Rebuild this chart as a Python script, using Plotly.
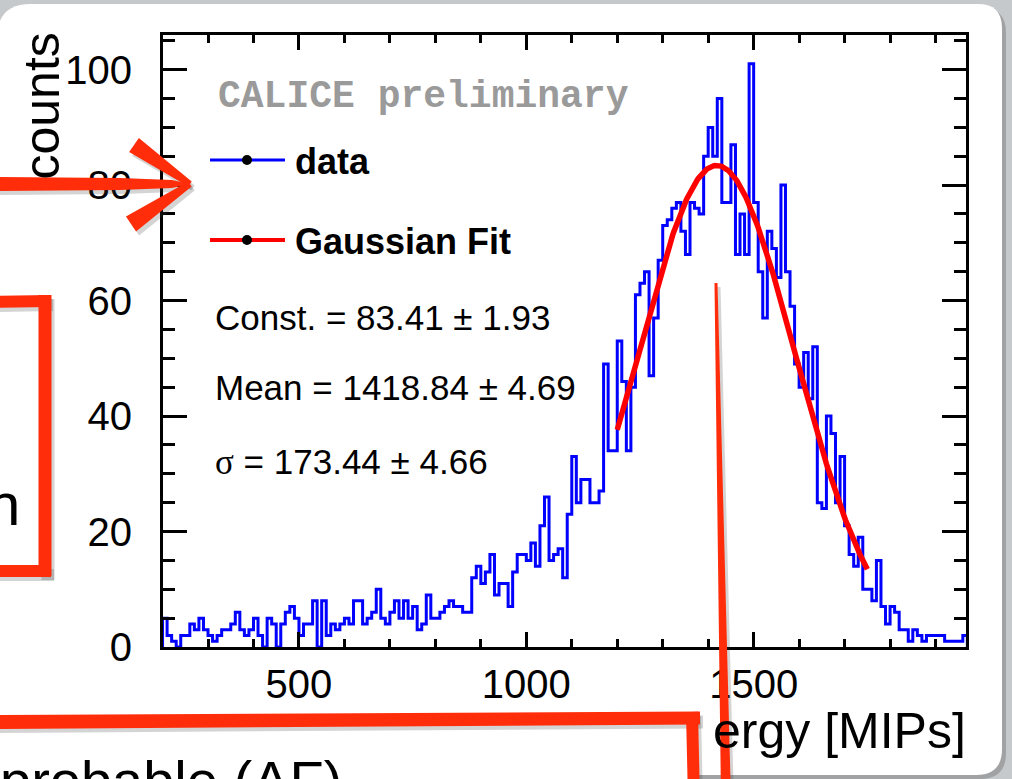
import math
import plotly.graph_objects as go

# ---------------- data ----------------
bin_start = 200          # MIPs, first bin low edge
bin_width = 10           # MIPs
counts = [
    5, 2, 1, 0, 2, 2, 4, 3, 5, 3, 2, 1, 2, 3, 3, 4, 6, 3, 2, 3, 5, 2, 0, 5, 4, 0, 4, 6, 7, 5, 2, 4, 4, 8,
    0, 8, 2, 4, 3, 4, 5, 4, 8, 8, 4, 5, 6, 10, 5, 4, 6, 8, 5, 8, 5, 7, 3, 4, 9, 5, 5, 6, 7, 8, 7, 7, 6, 6,
    12, 14, 11, 13, 16, 9, 11, 11, 7, 13, 16, 16, 15, 18, 14, 21, 26, 15, 16, 17, 12, 23, 33, 25, 29, 29, 25, 25, 27,
    49, 34, 34, 53, 46, 34, 45, 61, 63, 65, 47, 57, 67, 73, 74, 76, 77, 72, 68, 77, 76, 75, 85, 90, 85, 95, 77, 77, 87, 68, 75, 68, 101,
    77, 65, 57, 72, 69, 64, 80, 65, 59, 49, 45, 51, 43, 52, 25, 24, 40, 37, 25, 33, 21, 16, 14, 19, 10, 10, 8, 15, 7, 4, 7, 6, 3, 3, 1, 3, 2, 1, 2, 2, 2, 2, 1, 1, 1, 1, 2,
]
fit_const = 83.41
fit_mean = 1418.84
fit_sigma = 173.44
fit_range = [1200, 1750]
x_range = [201, 1967]
y_range = [0, 106]
legend_labels = ["data", "Gaussian Fit"]
stat_lines = ["Const. = 83.41 ± 1.93", "Mean = 1418.84 ± 4.69",
              '<span style="font-family:Liberation Serif">σ</span> = 173.44 ± 4.66']
x_title = "ergy [MIPs]"
y_title = "counts"
watermark = "CALICE preliminary"
slide_texts = ["n", "probable (AF)"]

# ---------------- geometry helpers (pixel -> paper) ----------------
W, H = 1012, 779
L, R, T, B = 163, 966, 35, 647


def fx(x):
    return (x - L) / (R - L)


def fy(y):
    return (B - y) / (B - T)


def poly(points):
    return "M " + " L ".join(f"{fx(x):.5f},{fy(y):.5f}" for x, y in points) + " Z"


def stroke(x0, y0, x1, y1, w0, w1):
    dx, dy = x1 - x0, y1 - y0
    n = math.hypot(dx, dy)
    px, py = -dy / n, dx / n
    return [(x0 + px * w0 / 2, y0 + py * w0 / 2), (x1 + px * w1 / 2, y1 + py * w1 / 2),
            (x1 - px * w1 / 2, y1 - py * w1 / 2), (x0 - px * w0 / 2, y0 - py * w0 / 2)]


def rounded_rect(x0, y0, x1, y1, r_tl, r_tr, r_br, r_bl):
    def P(x, y):
        return f"{fx(x):.5f},{fy(y):.5f}"
    return (f"M {P(x0, y0 + r_tl)} Q {P(x0, y0)} {P(x0 + r_tl, y0)} "
            f"L {P(x1 - r_tr, y0)} Q {P(x1, y0)} {P(x1, y0 + r_tr)} "
            f"L {P(x1, y1 - r_br)} Q {P(x1, y1)} {P(x1 - r_br, y1)} "
            f"L {P(x0 + r_bl, y1)} Q {P(x0, y1)} {P(x0, y1 - r_bl)} Z")


# ---------------- traces ----------------
edges = [bin_start + bin_width * i for i in range(len(counts) + 1)]
hx = [edges[0]] + edges
hy = [0] + counts + [0]

fit_x = [fit_range[0] + 2 * i for i in range((fit_range[1] - fit_range[0]) // 2 + 1)]
fit_y = [fit_const * math.exp(-0.5 * ((v - fit_mean) / fit_sigma) ** 2) for v in fit_x]

fig = go.Figure()
fig.add_trace(go.Scatter(x=hx, y=hy, mode="lines", line=dict(color="#0000ff", width=3, shape="hv"),
                         showlegend=False, hoverinfo="skip"))
fig.add_trace(go.Scatter(x=fit_x, y=fit_y, mode="lines", line=dict(color="#ff0000", width=5.5),
                         showlegend=False, hoverinfo="skip"))

FONT = "Liberation Sans, Arial, sans-serif"
RED = "#ff2d0a"
SHADOW = "rgba(60,60,60,0.22)"

shapes = []
# slide panel (rounded white card) with soft shadow
shapes.append(dict(type="path", xref="paper", yref="paper", layer="below",
                   path=rounded_rect(1, 7, 1006, 779, 34, 26, 26, 26),
                   fillcolor="rgba(90,90,90,0.35)", line=dict(width=0)))
shapes.append(dict(type="path", xref="paper", yref="paper", layer="below",
                   path=rounded_rect(-3, 4, 1002, 775, 34, 24, 26, 26),
                   fillcolor="#ffffff", line=dict(width=0)))

# legend samples
for yy, col, lw in [(160, "#0000ff", 3), (240, "#ff0000", 4)]:
    shapes.append(dict(type="line", xref="paper", yref="paper", x0=fx(210), x1=fx(285), y0=fy(yy), y1=fy(yy),
                       line=dict(color=col, width=lw)))
    shapes.append(dict(type="circle", xref="paper", yref="paper", x0=fx(242), x1=fx(252),
                       y0=fy(yy + 5), y1=fy(yy - 5), fillcolor="black", line=dict(width=0)))

# bottom slide box (white interior)
shapes.append(dict(type="path", xref="paper", yref="paper",
                   path=poly([(-10, 720), (693, 720), (693, 800), (-10, 800)]),
                   fillcolor="#ffffff", line=dict(width=0)))

# red hand-drawn marks
red_polys = [
    # arrow shaft and head
    [(-10, 177), (120, 178), (172, 180), (190, 184), (172, 188), (120, 190), (-10, 191)],
    stroke(134, 145, 190, 184, 17, 6),
    stroke(131, 224, 190, 184, 18, 6),
    # left box
    stroke(-10, 302, 50, 301, 12, 12),
    stroke(45, 295, 45, 576, 13, 13),
    stroke(-10, 571, 51, 571, 12, 12),
    # bottom box
    stroke(-10, 722, 700, 718, 14, 13),
    stroke(692, 712, 694, 800, 12, 12),
    # long vertical line
    stroke(716, 283, 726, 800, 3, 10),
]
for p in red_polys:
    shadow_pts = [(x + 3, y + 4) for x, y in p]
    shapes.append(dict(type="path", xref="paper", yref="paper", path=poly(shadow_pts),
                       fillcolor=SHADOW, line=dict(width=0)))
for p in red_polys:
    shapes.append(dict(type="path", xref="paper", yref="paper", path=poly(p),
                       fillcolor=RED, line=dict(width=0)))

annotations = []


def ann(text, x, y, size, xanchor="left", yanchor="middle", color="black", family=FONT, angle=0):
    annotations.append(dict(text=text, x=fx(x), y=fy(y), xref="paper", yref="paper", showarrow=False,
                            xanchor=xanchor, yanchor=yanchor, textangle=angle,
                            font=dict(size=size, color=color, family=family)))


ann(y_title, 41, 31, 50, xanchor="center", yanchor="top", angle=-90)
ann(x_title, 968, 731, 50, xanchor="right")
ann(f"<b>{watermark}</b>", 216, 97, 38, color="#9a9a9a", family="Liberation Mono, Courier New, monospace")
ann(f"<b>{legend_labels[0]}</b>", 293, 161, 36)
ann(f"<b>{legend_labels[1]}</b>", 293, 241, 36)
for i, s in enumerate(stat_lines):
    ann(s, 213, [317, 387, 462][i], 35)
ann(slide_texts[0], 22, 505, 60, xanchor="right")
ann(slide_texts[1], -2, 780, 56)

axis_common = dict(showline=True, linewidth=3, linecolor="black", mirror="ticks", ticks="inside",
                   tickwidth=3, tickcolor="black", showgrid=False, zeroline=False,
                   tickfont=dict(size=40, family=FONT, color="black"))

fig.update_layout(
    width=W, height=H,
    margin=dict(l=L, r=W - R, t=T, b=H - B, pad=0),
    paper_bgcolor="#c6c9cc", plot_bgcolor="#ffffff",
    showlegend=False,
    xaxis=dict(range=x_range, tickmode="linear", tick0=0, dtick=500, ticklen=15,
               minor=dict(dtick=100, ticklen=8, tickwidth=3, ticks="inside", tickcolor="black"),
               ticklabelstandoff=0, **axis_common),
    yaxis=dict(range=y_range, tickmode="linear", tick0=0, dtick=20, ticklen=24,
               minor=dict(dtick=5, ticklen=12, tickwidth=3, ticks="inside", tickcolor="black"),
               ticklabelstandoff=20, **axis_common),
    shapes=shapes,
    annotations=annotations,
)

fig.write_html(
    "out.html",
    config={"displayModeBar": False},
    post_script="document.body.style.margin='0';document.body.style.background='#c6c9cc';",
)
